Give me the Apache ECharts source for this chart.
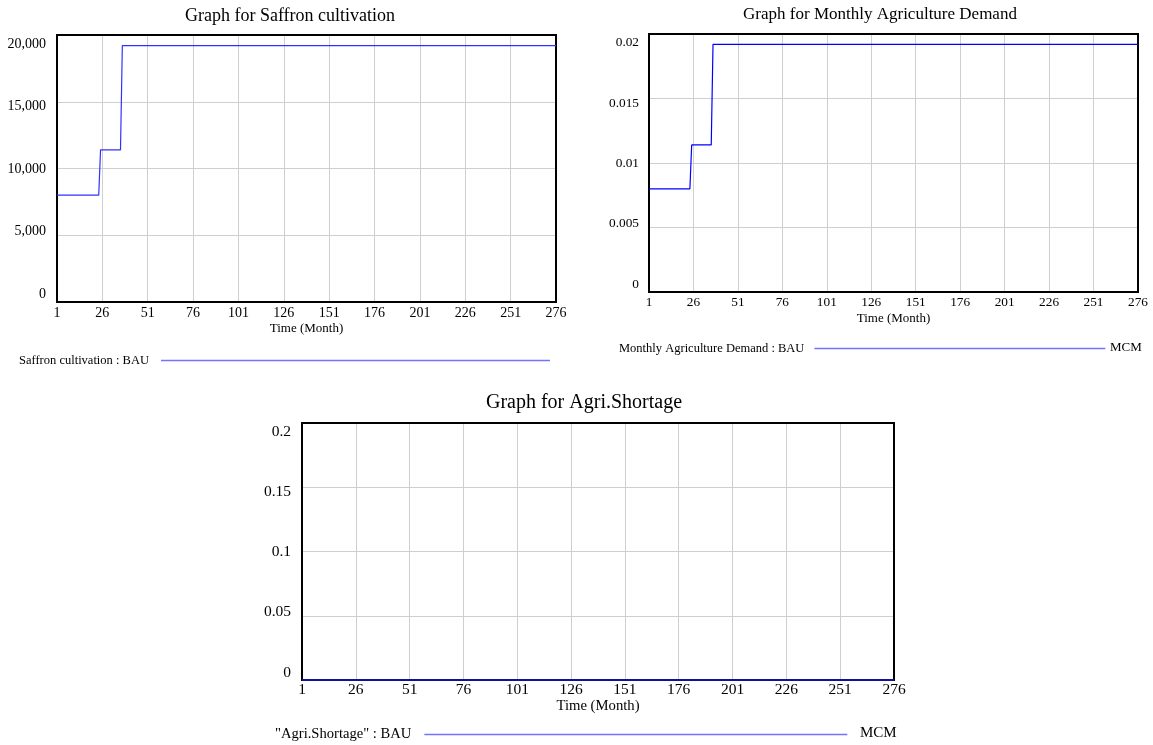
<!DOCTYPE html>
<html><head><meta charset="utf-8">
<script src="https://cdn.jsdelivr.net/npm/echarts@6/dist/echarts.min.js"></script>
<style>html,body{margin:0;padding:0;background:#fff}#c{width:1153px;height:745px}</style>
</head><body><div id="c"></div>
<script>
// ---- data ----
const monthTicks = [1, 26, 51, 76, 101, 126, 151, 176, 201, 226, 251, 276];
const saffronMonths = [1, 24, 25, 36, 37, 276];
const saffronValues = [8000, 8000, 11400, 11400, 19200, 19200];
const demandMonths = [1, 24, 25, 36, 37, 276];
const demandValues = [0.008, 0.008, 0.0114, 0.0114, 0.0192, 0.0192];
const shortageMonths = [1, 276];
const shortageValues = [0, 0];
const titles = ['Graph for Saffron cultivation', 'Graph for Monthly Agriculture Demand', 'Graph for Agri.Shortage'];
const seriesNames = ['Saffron cultivation : BAU', 'Monthly Agriculture Demand : BAU', '"Agri.Shortage" : BAU'];
const units = ['', 'MCM', 'MCM'];
const yMax = [20000, 0.02, 0.2];
const yStep = [5000, 0.005, 0.05];
const xName = 'Time (Month)';

// ---- layout / style ----
const FONT = 'Liberation Serif';
const grids = [
  {left: 57, top: 35, width: 499, height: 267},
  {left: 649, top: 34, width: 489, height: 258},
  {left: 302, top: 423, width: 592, height: 257}
];
const titleFont = [18, 17, 20];
const tickFont = [14, 13.3, 15.5];
const nameFont = [13, 13, 14.7];
const legendFont = [12.5, 12.5, 14.6];
const titlePos = [{x: 290, y: 7}, {x: 880, y: 6}, {x: 584, y: 393}];
const legendPos = [
  {left: 19, top: 354, w: 389, gap: 7},
  {left: 619, top: 342, w: 291, gap: 5},
  {left: 275, top: 727, w: 423, gap: 8}
];
const unitPos = [null, {x: 1110, y: 349, size: 13}, {x: 860, y: 735, size: 15}];
const nameGaps = [20, 20, 16];
const labelMargins = [4, 4, 2];
const yLabelMargins = [11, 10, 11];
const lineColors = ['#3030ff', '#0000ff', '#10109a'];

const dataSets = [
  saffronMonths.map((m, i) => [m, saffronValues[i]]),
  demandMonths.map((m, i) => [m, demandValues[i]]),
  shortageMonths.map((m, i) => [m, shortageValues[i]])
];

// Vensim-style label offsets (index from min)
const labelShift = [-7.5, -3.8, 0.5, 4.7, 9];
function makeRich(size) {
  const rich = {};
  labelShift.forEach((d, i) => {
    rich['o' + i] = {
      fontFamily: FONT, fontSize: size, color: '#000',
      padding: d >= 0 ? [2 * d, 0, 0, 0] : [0, 0, -2 * d, 0]
    };
  });
  return rich;
}
function fmtY(k) {
  return function (v, idx) {
    let s;
    if (k === 0) s = v.toLocaleString('en-US');
    else s = String(+v.toFixed(6));
    return '{o' + idx + '|' + s + '}';
  };
}

const option = {
  backgroundColor: '#fff',
  animation: false,
  title: titles.map((t, i) => ({
    text: t, left: titlePos[i].x, top: titlePos[i].y, textAlign: 'center', padding: 0,
    textStyle: {fontFamily: FONT, fontSize: titleFont[i], fontWeight: 'normal', color: '#000'}
  })),
  legend: seriesNames.map((n, i) => ({
    data: [{name: n, icon: 'rect'}],
    left: legendPos[i].left, top: legendPos[i].top, padding: 0,
    itemWidth: legendPos[i].w, itemHeight: 1.5, align: 'right',
    selectedMode: false,
    itemStyle: {color: '#7373ff'},
    textStyle: {fontFamily: FONT, fontSize: legendFont[i], color: '#000', padding: [0, legendPos[i].gap, 0, 0]}
  })),
  grid: grids.map(g => Object.assign({show: true, z: 1, borderColor: '#000', borderWidth: 2, containLabel: false}, g)),
  xAxis: grids.map((g, i) => ({
    type: 'value', gridIndex: i, min: 1, max: 276,
    name: xName, nameLocation: 'middle', nameGap: nameGaps[i],
    nameTextStyle: {fontFamily: FONT, fontSize: nameFont[i], color: '#000'},
    axisLine: {show: false},
    axisTick: {show: false, customValues: monthTicks},
    axisLabel: {customValues: monthTicks, fontFamily: FONT, fontSize: tickFont[i], color: '#000', margin: labelMargins[i]},
    splitLine: {show: true, lineStyle: {color: '#cfcfcf', width: 1}}
  })),
  yAxis: grids.map((g, i) => ({
    type: 'value', gridIndex: i, min: 0, max: yMax[i], interval: yStep[i],
    axisLine: {show: false}, axisTick: {show: false},
    axisLabel: {formatter: fmtY(i), rich: makeRich(tickFont[i]), fontFamily: FONT, fontSize: tickFont[i], color: '#000', margin: yLabelMargins[i]},
    splitLine: {show: true, lineStyle: {color: '#cfcfcf', width: 1}}
  })),
  series: seriesNames.map((n, i) => ({
    name: n, type: 'line', xAxisIndex: i, yAxisIndex: i,
    data: dataSets[i], showSymbol: false, symbol: 'none', silent: true,
    lineStyle: {color: lineColors[i], width: i === 2 ? 2 : 1.2},
    itemStyle: {color: lineColors[i]}, z: 5
  })),
  graphic: unitPos.map((p, j) => p ? ({
    type: 'text', left: p.x, top: p.y - p.size * 0.6,
    style: {text: units[j], fontFamily: FONT, fontSize: p.size, fill: '#000'}
  }) : null).filter(Boolean)
};
const chart = echarts.init(document.getElementById('c'), null, {renderer: 'canvas'});
chart.setOption(option);
</script></body></html>
